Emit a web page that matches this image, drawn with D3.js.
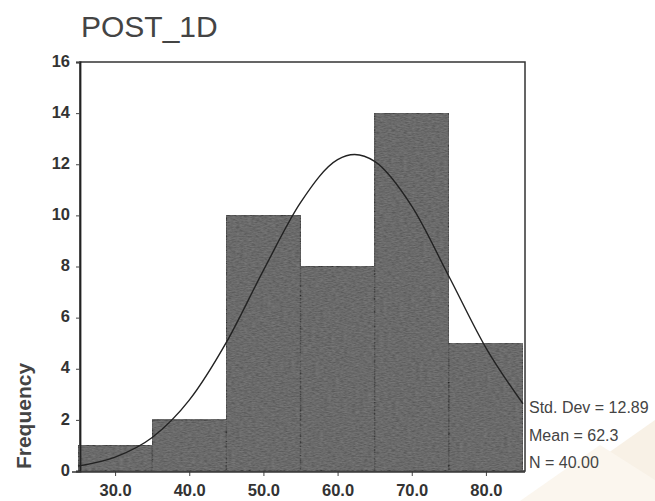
<!DOCTYPE html>
<html><head><meta charset="utf-8">
<script src="https://cdn.jsdelivr.net/npm/d3@7"></script>
<style>body{margin:0;background:#fff}svg{display:block}</style>
</head><body>
<svg id="c" width="655" height="501"></svg>
<script>
const binStarts = [25, 35, 45, 55, 65, 75];
const binWidth = 10;
const frequencies = [1, 2, 10, 8, 14, 5];
const curveX = [25, 30, 35, 40, 45, 50, 55, 60, 62.3, 65, 70, 75, 80, 85];
const curveY = [0.19, 0.54, 1.31, 2.77, 5.03, 7.85, 10.5, 12.18, 12.38, 12.11, 10.36, 7.62, 4.82, 2.63];
const yTicks = [0, 2, 4, 6, 8, 10, 12, 14, 16];
const xTicks = [30, 40, 50, 60, 70, 80];
const statLabels = ["Std. Dev = 12.89", "Mean = 62.3", "N = 40.00"];

const FONT = "Liberation Sans, Arial, sans-serif";
const svg = d3.select("#c");
const x = d3.scaleLinear().domain([25, 85]).range([78, 523]);
const y = d3.scaleLinear().domain([0, 16]).range([471, 62]);

// texture
const defs = svg.append("defs");
const f = defs.append("filter").attr("id", "tex").attr("x", 0).attr("y", 0).attr("width", 1).attr("height", 1);
f.append("feTurbulence").attr("type", "fractalNoise").attr("baseFrequency", "0.25 0.8").attr("numOctaves", 2).attr("seed", 5).attr("result", "n");
f.append("feColorMatrix").attr("in", "n").attr("type", "matrix")
  .attr("values", "0 0 0 0 0.2  0 0 0 0 0.2  0 0 0 0 0.2  0 0 0 -1.3 1.1").attr("result", "dark");
f.append("feComposite").attr("in", "dark").attr("in2", "SourceGraphic").attr("operator", "in").attr("result", "d2");
f.append("feMerge").selectAll("feMergeNode").data(["SourceGraphic", "d2"]).join("feMergeNode").attr("in", d => d);

// faint watermark
svg.append("path").attr("d", "M540,501 L655,420 L655,501 Z").attr("fill", "#f8f1e6");
svg.append("path").attr("d", "M520,501 L600,445 L655,480 L655,501 Z").attr("fill", "#fbf6ee");

// frame
svg.append("rect").attr("x", 80).attr("y", y(16)).attr("width", 525 - 80).attr("height", y(0) - y(16))
  .attr("fill", "#fff").attr("stroke", "#333").attr("stroke-width", 1.5);

// bars
svg.append("g").selectAll("rect").data(binStarts).join("rect")
  .attr("x", d => x(d)).attr("width", d => x(d + binWidth) - x(d))
  .attr("y", (d, i) => y(frequencies[i])).attr("height", (d, i) => y(0) - y(frequencies[i]))
  .attr("fill", "#5a5a5a").attr("filter", "url(#tex)")
  .attr("stroke", "#222").attr("stroke-width", 1.3);

// curve
const line = d3.line().x(d => x(d[0])).y(d => y(d[1])).curve(d3.curveMonotoneX);
svg.append("path").datum(curveX.map((v, i) => [v, curveY[i]]))
  .attr("d", line).attr("fill", "none").attr("stroke", "#222").attr("stroke-width", 1.4);

// axes
const ya = svg.append("g").attr("transform", "translate(80,0)")
  .call(d3.axisLeft(y).tickValues(yTicks).tickSize(4).tickPadding(6));
ya.select(".domain").attr("stroke", "#222").attr("stroke-width", 1.8);
const xa = svg.append("g").attr("transform", `translate(0,${y(0)})`)
  .call(d3.axisBottom(x).tickValues(xTicks).tickFormat(d3.format(".1f")).tickSize(5).tickPadding(8));
xa.select(".domain").remove();
svg.append("line").attr("x1", 72).attr("x2", 525).attr("y1", y(0) + 1).attr("y2", y(0) + 1).attr("stroke", "#333").attr("stroke-width", 1.5);
[ya, xa].forEach(a => {
  a.selectAll(".tick line").attr("stroke", "#444");
  a.selectAll(".tick text").attr("fill", "#333").style("font-family", FONT)
    .style("font-size", "16.5px").style("font-weight", "bold");
});
ya.selectAll(".tick text").attr("dy", "0.25em");

// title
svg.append("text").attr("x", 81).attr("y", 37).text("POST_1D")
  .attr("fill", "#444").style("font-family", FONT).style("font-size", "30px");

// y label
svg.append("text").attr("transform", "translate(31,416) rotate(-90)").attr("text-anchor", "middle")
  .text("Frequency").attr("fill", "#444").style("font-family", FONT)
  .style("font-size", "21px").style("font-weight", "bold");

// stats
svg.append("g").selectAll("text").data(statLabels).join("text")
  .attr("x", 529).attr("y", (d, i) => 413 + i * 27.5).text(d => d)
  .attr("fill", "#444").style("font-family", FONT).style("font-size", "16px");
</script>
</body></html>
